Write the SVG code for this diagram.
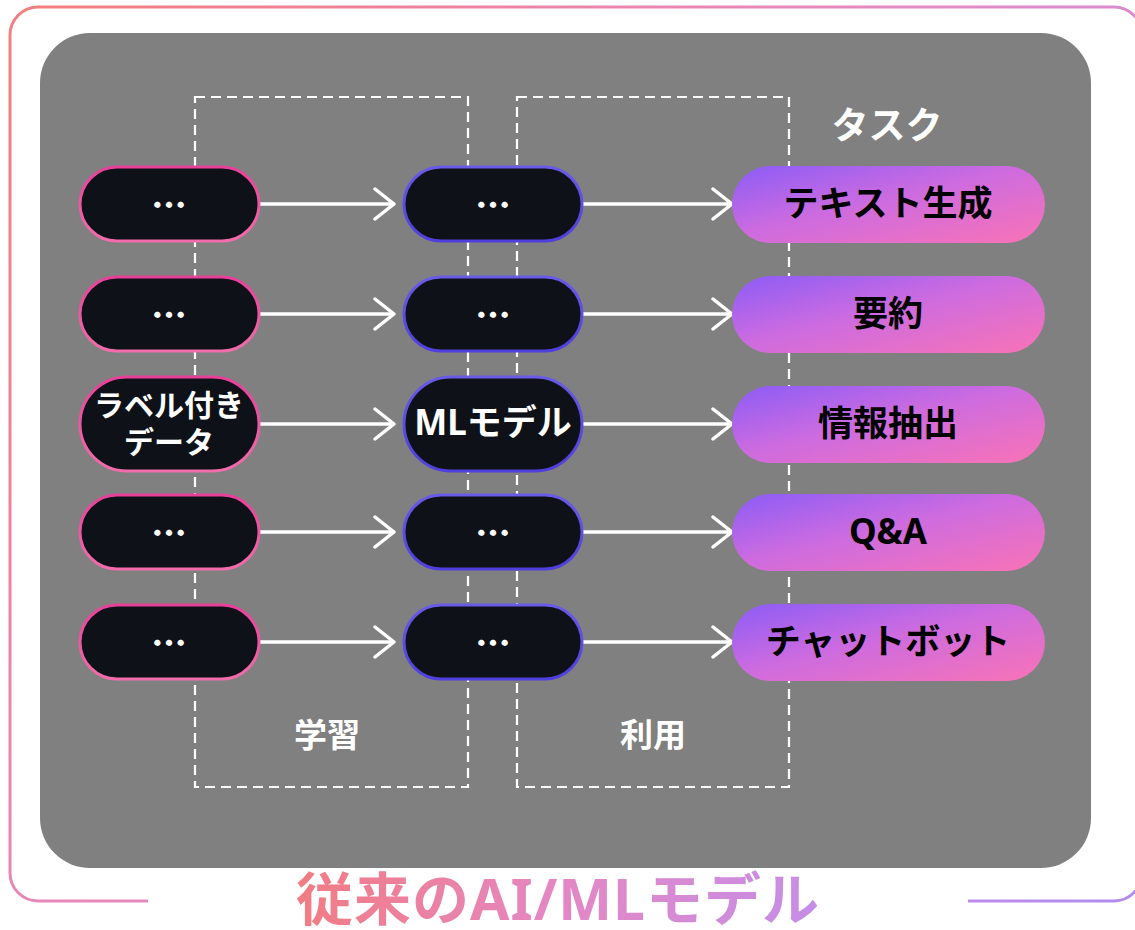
<svg xmlns="http://www.w3.org/2000/svg" width="1135" height="930" viewBox="0 0 1135 930">
<defs>
<linearGradient id="gBorder" gradientUnits="userSpaceOnUse" x1="10" y1="7" x2="1142" y2="901">
<stop offset="0" stop-color="#f47e7c"/>
<stop offset="0.5" stop-color="#e58ac6"/>
<stop offset="1" stop-color="#b28cf2"/>
</linearGradient>
<linearGradient id="gTitle" gradientUnits="userSpaceOnUse" x1="293" y1="875" x2="822" y2="925">
<stop offset="0" stop-color="#f27c80"/>
<stop offset="0.5" stop-color="#e487c4"/>
<stop offset="1" stop-color="#c58ee8"/>
</linearGradient>
<linearGradient id="gTask" x1="0" y1="0" x2="1" y2="1">
<stop offset="0" stop-color="#8b5cf6"/>
<stop offset="0.45" stop-color="#cc6be0"/>
<stop offset="1" stop-color="#f973b6"/>
</linearGradient>
<linearGradient id="gPink" x1="0" y1="0" x2="0" y2="1">
<stop offset="0" stop-color="#e8409a"/>
<stop offset="1" stop-color="#f36cab"/>
</linearGradient>
<linearGradient id="gBlue" x1="0" y1="0" x2="0" y2="1">
<stop offset="0" stop-color="#6a5ae8"/>
<stop offset="1" stop-color="#4f3fdc"/>
</linearGradient>
<marker id="arr" viewBox="0 0 24 34" refX="21" refY="17" markerWidth="24" markerHeight="34" markerUnits="userSpaceOnUse" orient="auto">
<path d="M2,2 L21,17 L2,32" fill="none" stroke="#fff" stroke-width="3.5" stroke-linecap="round" stroke-linejoin="round"/>
</marker>
</defs>
<style>
text{font-family:"Noto Sans","Noto Sans CJK JP",sans-serif;font-weight:700;text-anchor:middle;dominant-baseline:central}
.inp{fill:#0e1117;stroke:url(#gPink);stroke-width:3}
.mdl{fill:#0e1117;stroke:url(#gBlue);stroke-width:3}
.task{fill:url(#gTask)}
.w{fill:#fff}
.dots{fill:#fff;font-size:35px;font-family:"Noto Sans CJK JP",sans-serif;font-weight:900}
.tt{fill:#000;font-size:35px}
.dash{fill:none;stroke:#fff;stroke-width:2.2;stroke-dasharray:10 6}
.conn line{stroke:#fff;stroke-width:3.5;marker-end:url(#arr)}
</style>
<path d="M148,901 L38,901 A28,28 0 0 1 10,873 L10,35 A28,28 0 0 1 38,7 L1114,7 A28,28 0 0 1 1142,35 L1142,873 A28,28 0 0 1 1114,901 L968,901" fill="none" stroke="url(#gBorder)" stroke-width="3"/>
<rect id="panel" x="40" y="33" width="1051" height="835" rx="50" fill="#808080"/>
<g id="learn-box">
<rect class="dash" x="195" y="97" width="273" height="690"/>
<text class="w" x="327" y="734" font-size="33">学習</text>
</g>
<g id="use-box">
<rect class="dash" x="517" y="97" width="272" height="690"/>
<text class="w" x="653" y="734" font-size="33">利用</text>
</g>
<text id="task-label" class="w" x="887" y="124" font-size="37">タスク</text>
<g id="connectors" class="conn">
<line x1="259" y1="204" x2="394" y2="204"/>
<line x1="259" y1="314" x2="394" y2="314"/>
<line x1="259" y1="424" x2="394" y2="424"/>
<line x1="259" y1="532" x2="394" y2="532"/>
<line x1="259" y1="642" x2="394" y2="642"/>
<line x1="583" y1="204" x2="732" y2="204"/>
<line x1="583" y1="314" x2="732" y2="314"/>
<line x1="583" y1="424" x2="732" y2="424"/>
<line x1="583" y1="532" x2="732" y2="532"/>
<line x1="583" y1="642" x2="732" y2="642"/>
</g>
<g id="in1"><rect class="inp" x="80" y="167" width="179" height="74" rx="37"/><text class="dots" x="169" y="202">…</text></g>
<g id="in2"><rect class="inp" x="80" y="277" width="179" height="74" rx="37"/><text class="dots" x="169" y="312">…</text></g>
<g id="in3"><rect class="inp" x="80" y="377" width="179" height="94" rx="47"/><text class="w" x="169" y="404" font-size="30">ラベル付き</text><text class="w" x="169" y="441" font-size="30">データ</text></g>
<g id="in4"><rect class="inp" x="80" y="495" width="179" height="74" rx="37"/><text class="dots" x="169" y="530">…</text></g>
<g id="in5"><rect class="inp" x="80" y="605" width="179" height="74" rx="37"/><text class="dots" x="169" y="640">…</text></g>
<g id="m1"><rect class="mdl" x="404" y="167" width="178" height="74" rx="37"/><text class="dots" x="493" y="202">…</text></g>
<g id="m2"><rect class="mdl" x="404" y="277" width="178" height="74" rx="37"/><text class="dots" x="493" y="312">…</text></g>
<g id="m3"><rect class="mdl" x="404" y="377" width="178" height="94" rx="47"/><text class="w" x="493" y="421" font-size="35">MLモデル</text></g>
<g id="m4"><rect class="mdl" x="404" y="495" width="178" height="74" rx="37"/><text class="dots" x="493" y="530">…</text></g>
<g id="m5"><rect class="mdl" x="404" y="605" width="178" height="74" rx="37"/><text class="dots" x="493" y="640">…</text></g>
<g id="t1"><rect class="task" x="732" y="166" width="313" height="77" rx="38.5"/><text class="tt" x="888" y="202">テキスト生成</text></g>
<g id="t2"><rect class="task" x="732" y="276" width="313" height="77" rx="38.5"/><text class="tt" x="888" y="312">要約</text></g>
<g id="t3"><rect class="task" x="732" y="386" width="313" height="77" rx="38.5"/><text class="tt" x="888" y="422">情報抽出</text></g>
<g id="t4"><rect class="task" x="732" y="494" width="313" height="77" rx="38.5"/><text class="tt" x="888" y="530">Q&amp;A</text></g>
<g id="t5"><rect class="task" x="732" y="604" width="313" height="77" rx="38.5"/><text class="tt" x="888" y="640">チャットボット</text></g>
<text id="title" x="558" y="898" font-size="57" letter-spacing="1" fill="url(#gTitle)">従来のAI/MLモデル</text>
</svg>
